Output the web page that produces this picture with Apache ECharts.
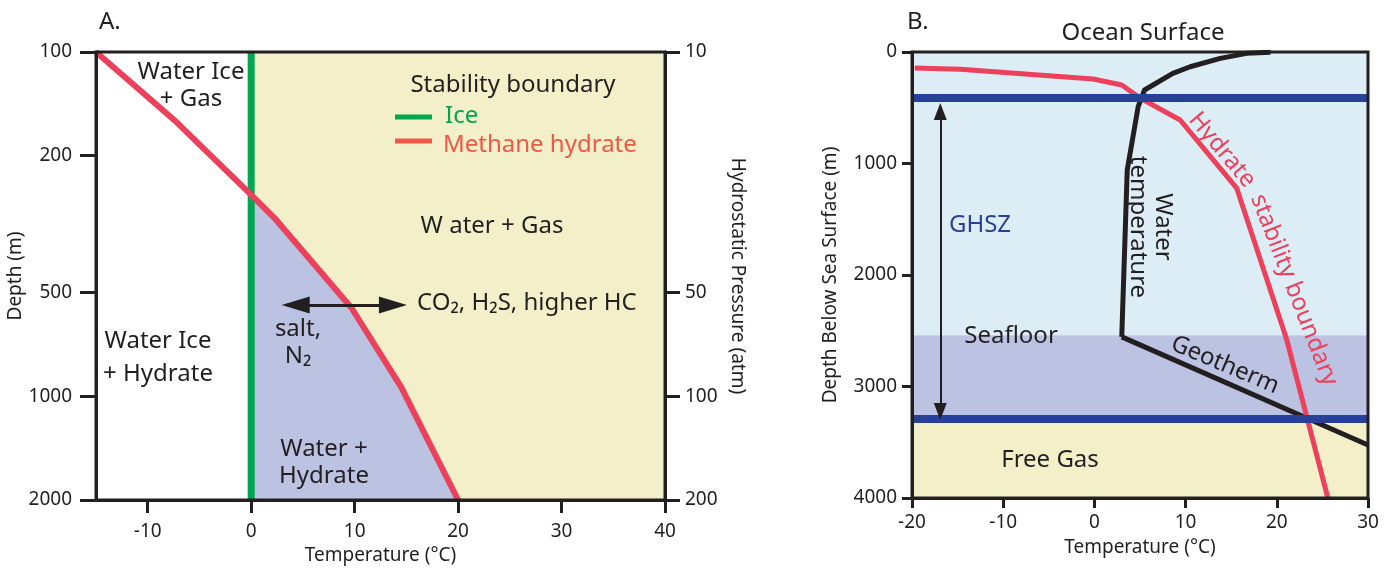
<!DOCTYPE html>
<html><head><meta charset="utf-8">
<script src="https://cdn.jsdelivr.net/npm/echarts@6/dist/echarts.min.js"></script>
<style>html,body{margin:0;padding:0;background:#fff}#c{width:1393px;height:572px}</style>
</head><body><div id="c"></div>
<script>
// ---------- Panel A data ----------
const aTempTicks = [-10, 0, 10, 20, 30, 40];
const aDepthTicks = [100, 200, 500, 1000, 2000];
const aPressureTicks = [10, 50, 100, 200];
const iceBoundary = [[0, 100], [0, 2000]];
const hydrateBoundaryA = [[-15, 100], [-7.2, 160], [0, 260], [2.4, 307], [9.7, 554], [14.5, 940], [20, 2000]];
const gasEffectArrow = [[4.3, 543], [13.7, 543]];
// ---------- Panel B data ----------
const bTempTicks = [-20, -10, 0, 10, 20, 30];
const bDepthTicks = [0, 1000, 2000, 3000, 4000];
const hydrateBoundaryB = [[-19.7, 143], [-14.7, 155], [-0.15, 242], [3.0, 296], [5.0, 413], [9.4, 610], [15.6, 1220], [21.1, 2583], [25.6, 4000]];
const waterTemperature = [[19.3, 3], [16.7, 12], [13.8, 57], [10.5, 132], [8.6, 191], [5.5, 341], [4.8, 490], [3.6, 1058], [3.0, 2555]];
const geotherm = [[3.0, 2555], [30, 3525]];
const seafloorDepth = 2540;
const ghszTop = 408, ghszBase = 3291;
const ghszArrow = [[-16.9, 534], [-16.9, 3224]];

const FONT = 'Noto Sans';
const INK = '#231f20';
const YELLOW = '#f3f0c9';
const LAV = '#bcc3e2';
const SKY = '#dcedf5';
const DARKBLUE = '#27409a';
const RED = '#ec405b';
const GREEN = '#00a651';

function txt(text, x, y, opts) {
  opts = opts || {};
  return {
    type: 'text', x: x, y: y, rotation: opts.rot || 0, z: 50,
    style: {
      text: text, fill: opts.color || INK,
      font: (opts.size || 24) + 'px "' + FONT + '"',
      align: opts.align || 'center', verticalAlign: 'middle',
      lineHeight: opts.lh || 27
    }
  };
}

const chart = echarts.init(document.getElementById('c'));
const tickStyle = { color: INK, width: 3 };
const plain = v => String(v);
const labelStyle = { color: INK, fontFamily: FONT, fontSize: 19, formatter: plain };
const nameStyle = { color: INK, fontFamily: FONT, fontSize: 19 };

chart.setOption({
  animation: false,
  grid: [
    { left: 96, right: 728, top: 52, bottom: 72, show: true, z: 10, borderColor: INK, borderWidth: 3, backgroundColor: 'transparent' },
    { left: 912, right: 25, top: 52, bottom: 74, show: true, z: 10, borderColor: INK, borderWidth: 3, backgroundColor: 'transparent' }
  ],
  xAxis: [
    { gridIndex: 0, type: 'value', min: -15, max: 40, position: 'bottom', z: 10,
      axisLine: { onZero: false, lineStyle: tickStyle },
      axisTick: { length: 13, lineStyle: tickStyle, customValues: aTempTicks },
      axisLabel: Object.assign({ margin: 22, customValues: aTempTicks }, labelStyle),
      splitLine: { show: false },
      name: 'Temperature (°C)', nameLocation: 'middle', nameGap: 45, nameTextStyle: nameStyle },
    { gridIndex: 1, type: 'value', min: -20, max: 30, position: 'bottom', z: 10,
      axisLine: { onZero: false, lineStyle: tickStyle },
      axisTick: { length: 10, lineStyle: tickStyle, customValues: bTempTicks },
      axisLabel: Object.assign({ margin: 15, customValues: bTempTicks }, labelStyle),
      splitLine: { show: false },
      name: 'Temperature (°C)', nameLocation: 'middle', nameGap: 40, nameTextStyle: nameStyle }
  ],
  yAxis: [
    { gridIndex: 0, type: 'log', logBase: 10, min: 100, max: 2000, inverse: true, position: 'left', z: 10,
      axisLine: { onZero: false, lineStyle: tickStyle },
      axisTick: { length: 16, lineStyle: tickStyle, customValues: aDepthTicks },
      axisLabel: Object.assign({ margin: 24, customValues: aDepthTicks }, labelStyle),
      splitLine: { show: false }, minorTick: { show: false },
      name: 'Depth (m)', nameLocation: 'middle', nameGap: 68, nameTextStyle: nameStyle },
    { gridIndex: 0, type: 'log', logBase: 10, min: 10, max: 200, inverse: true, position: 'right', z: 10,
      axisLine: { onZero: false, lineStyle: tickStyle },
      axisTick: { length: 15, lineStyle: tickStyle, customValues: aPressureTicks },
      axisLabel: Object.assign({ margin: 20, customValues: aPressureTicks }, labelStyle),
      splitLine: { show: false },
      name: 'Hydrostatic Pressure (atm)', nameLocation: 'middle', nameGap: 63, nameRotate: -90, nameTextStyle: nameStyle },
    { gridIndex: 1, type: 'value', min: 0, max: 4000, inverse: true, position: 'left', z: 10,
      axisLine: { onZero: false, lineStyle: tickStyle },
      axisTick: { length: 10, lineStyle: tickStyle, customValues: bDepthTicks },
      axisLabel: Object.assign({ margin: 15, customValues: bDepthTicks }, labelStyle),
      splitLine: { show: false },
      name: 'Depth Below Sea Surface (m)', nameLocation: 'middle', nameGap: 72, nameTextStyle: nameStyle }
  ],
  series: [
    // Panel A: gas-stable field (right of ice line)
    { type: 'line', xAxisIndex: 0, yAxisIndex: 0, data: [], z: 1, silent: true,
      markArea: { silent: true, itemStyle: { color: YELLOW },
        data: [[{ xAxis: iceBoundary[0][0] }, { xAxis: aTempTicks[aTempTicks.length - 1] }]] } },
    // Panel A: water + hydrate field
    { type: 'custom', xAxisIndex: 0, yAxisIndex: 0, z: 2, silent: true, data: [[0, 1000]],
      renderItem: function (params, api) {
        const pts = hydrateBoundaryA.filter(p => p[0] >= 0).map(p => api.coord(p));
        pts.push(api.coord(iceBoundary[1]));
        return { type: 'polygon', shape: { points: pts }, style: { fill: LAV } };
      } },
    { type: 'line', xAxisIndex: 0, yAxisIndex: 0, data: iceBoundary, z: 3, symbol: 'none',
      lineStyle: { color: GREEN, width: 7 } },
    { type: 'line', xAxisIndex: 0, yAxisIndex: 0, data: hydrateBoundaryA, z: 4, symbol: 'none',
      lineStyle: { color: RED, width: 6, join: 'round' } },
    { type: 'line', xAxisIndex: 0, yAxisIndex: 0, data: [], z: 5, silent: true,
      markLine: { silent: true, symbol: ['triangle', 'triangle'], symbolSize: [17, 28],
        label: { show: false }, lineStyle: { color: INK, width: 3, type: 'solid' },
        data: [[{ coord: gasEffectArrow[0] }, { coord: gasEffectArrow[1] }]] } },
    // Panel B: background zones
    { type: 'line', xAxisIndex: 1, yAxisIndex: 2, data: [], z: 1, silent: true,
      markArea: { silent: true,
        data: [
          [{ yAxis: bDepthTicks[0], itemStyle: { color: SKY } }, { yAxis: seafloorDepth }],
          [{ yAxis: seafloorDepth, itemStyle: { color: LAV } }, { yAxis: ghszBase }],
          [{ yAxis: ghszBase, itemStyle: { color: YELLOW } }, { yAxis: bDepthTicks[bDepthTicks.length - 1] }]
        ] },
      markLine: { silent: true, symbol: 'none', label: { show: false },
        lineStyle: { color: DARKBLUE, width: 8, type: 'solid' },
        data: [{ yAxis: ghszTop }, { yAxis: ghszBase }] } },
    { type: 'line', xAxisIndex: 1, yAxisIndex: 2, data: [], z: 2, silent: true,
      markLine: { silent: true, symbol: ['triangle', 'triangle'], symbolSize: [13, 17],
        label: { show: false }, lineStyle: { color: INK, width: 2, type: 'solid' },
        data: [[{ coord: ghszArrow[0] }, { coord: ghszArrow[1] }]] } },
    { type: 'line', xAxisIndex: 1, yAxisIndex: 2, data: waterTemperature, z: 3, symbol: 'none',
      lineStyle: { color: INK, width: 5, join: 'round' } },
    { type: 'line', xAxisIndex: 1, yAxisIndex: 2, data: geotherm, z: 3, symbol: 'none',
      lineStyle: { color: INK, width: 5 } },
    { type: 'line', xAxisIndex: 1, yAxisIndex: 2, data: hydrateBoundaryB, z: 4, symbol: 'none',
      lineStyle: { color: RED, width: 5, join: 'round' } }
  ],
  graphic: [
    txt('A.', 99, 22, { align: 'left' }),
    txt('Water Ice\n+ Gas', 191, 86),
    txt('Stability boundary', 513, 85),
    { type: 'line', z: 50, shape: { x1: 395, y1: 117, x2: 432, y2: 117 }, style: { stroke: GREEN, lineWidth: 5 } },
    txt('Ice', 445, 116, { align: 'left', color: GREEN }),
    { type: 'line', z: 50, shape: { x1: 395, y1: 141, x2: 432, y2: 141 }, style: { stroke: '#ef5845', lineWidth: 5 } },
    txt('Methane hydrate', 443, 145, { align: 'left', color: '#ef5845' }),
    txt('W ater + Gas', 492, 226),
    txt('CO\u2082, H\u2082S, higher HC', 417, 303, { align: 'left' }),
    txt('salt,\nN\u2082', 298, 343),
    txt('Water Ice\n+ Hydrate', 158, 358, { lh: 33 }),
    txt('Water +\nHydrate', 324, 463),
    txt('B.', 907, 22, { align: 'left' }),
    txt('Ocean Surface', 1143, 33),
    txt('GHSZ', 980, 225, { color: '#2b3f99' }),
    txt('Seafloor', 1011, 336),
    txt('Free Gas', 1050, 460),
    txt('Water\ntemperature', 1150, 227, { rot: -Math.PI / 2, lh: 25 }),
    txt('Hydrate', 1222, 150, { rot: -0.873, color: RED }),
    txt('stability boundary', 1294, 290, { rot: -1.2, color: RED }),
    txt('Geotherm', 1225, 365, { rot: -0.40 })
  ]
});
</script>
</body></html>
